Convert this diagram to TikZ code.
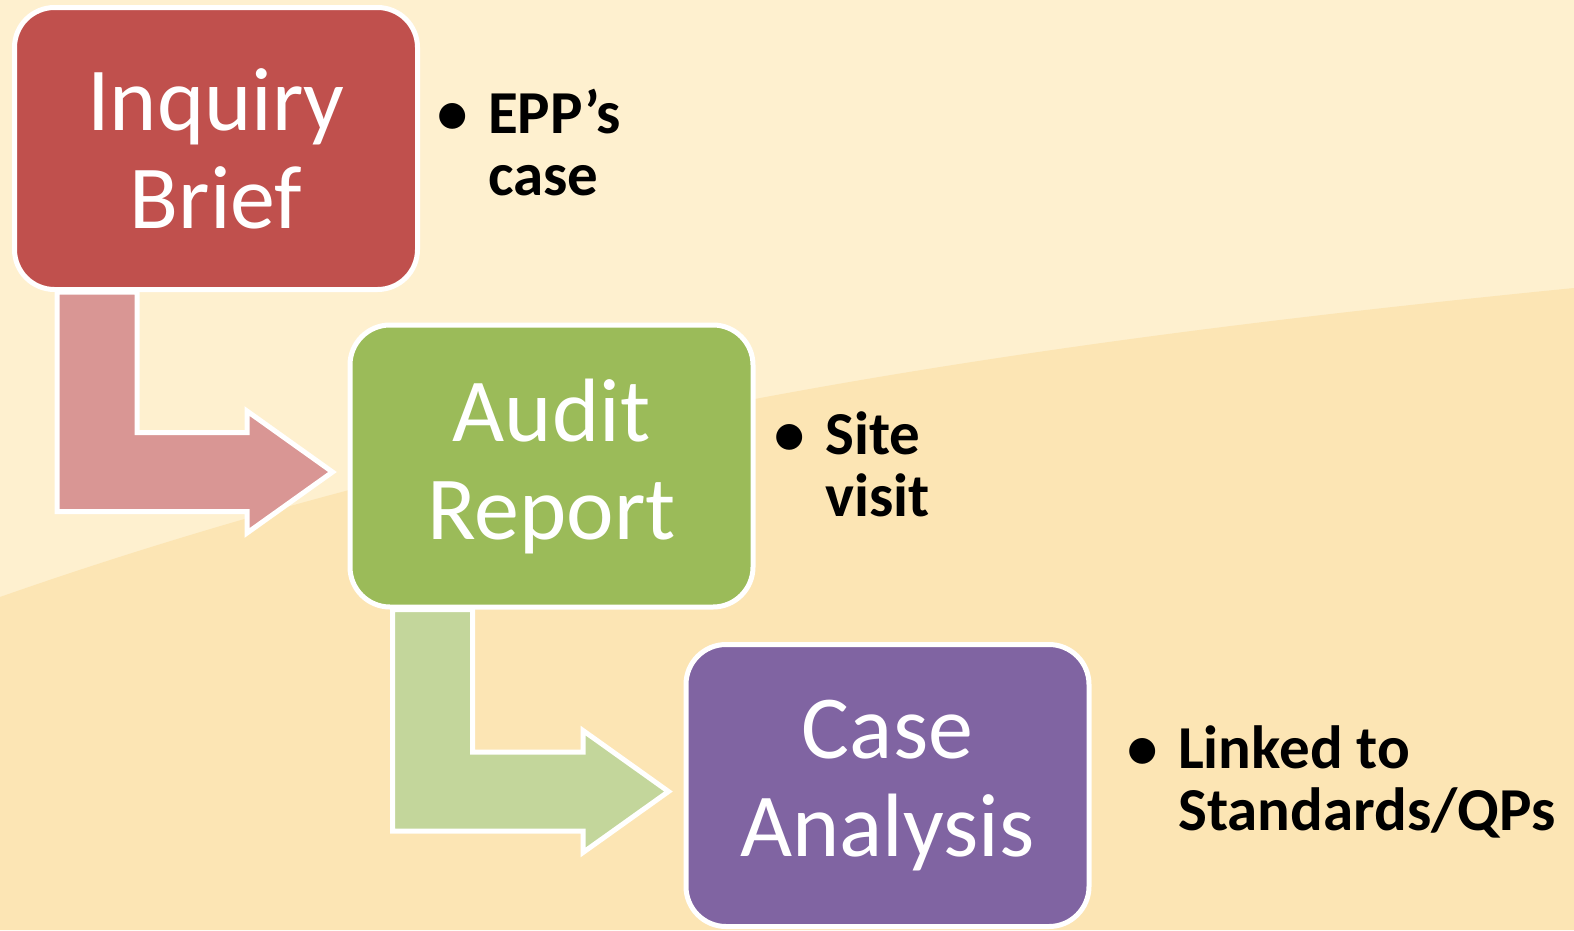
\documentclass[tikz,border=0pt]{standalone}
\usepackage{fontspec}
\setmainfont{Carlito}
\usetikzlibrary{calc}

\definecolor{bglight}{HTML}{FEF0CF}
\definecolor{bgdark}{HTML}{FCE5B4}
\definecolor{boxred}{HTML}{C0504D}
\definecolor{arrowred}{HTML}{D99694}
\definecolor{boxgreen}{HTML}{9BBB59}
\definecolor{arrowgreen}{HTML}{C3D69B}
\definecolor{boxpurple}{HTML}{8064A2}

\pgfdeclarelayer{bg}
\pgfdeclarelayer{mid}
\pgfsetlayers{bg,mid,main}

\tikzset{
  stagebox/.style={draw=white, line width=5pt, rounded corners=40pt,
    minimum width=403pt, minimum height=282pt, inner sep=0pt,
    text=white, align=center, font=\fontsize{90}{98}\selectfont},
  note/.style={anchor=west, inner sep=0pt, align=left,
    font=\fontsize{61}{62}\selectfont\bfseries},
  bentbox/.style={draw=white, line width=5pt, fill=#1}
}

% bent block arrow from the bottom of #1 to the left side of #2
\newcommand{\bentarrow}[3]{%
  \begin{pgfonlayer}{mid}
  \path let \p1 = (#1.south west), \p2 = ($(#2.west)+(-15,6)$) in
    [bentbox=#3]
    (\x1+45, \y1) -- (\x1+125, \y1) -- (\x1+125, \y2+39.5)
    -- (\x2-85.5, \y2+39.5) -- (\x2-85.5, \y2+61) -- (\p2)
    -- (\x2-85.5, \y2-61) -- (\x2-85.5, \y2-39.5)
    -- (\x1+45, \y2-39.5) -- cycle;
  \end{pgfonlayer}}

\newcommand{\bulletpt}{\llap{\textbullet\hspace{20pt}}}

\begin{document}
\begin{tikzpicture}[x=1pt, y=-1pt]
  \useasboundingbox (0,0) rectangle (1574,930);

  % background
  \begin{pgfonlayer}{bg}
    \fill[bglight] (0,0) rectangle (1574,930);
    \fill[bgdark] (0,597) .. controls (525,413) and (1050,340) .. (1574,288)
      -- (1574,930) -- (0,930) -- cycle;
  \end{pgfonlayer}

  % stages
  \node[stagebox, fill=boxred] (ib) at (216,148.5) {Inquiry\\Brief};
  \node[stagebox, fill=boxgreen] (ar) at (551.5,466) {Audit\\Report};
  \node[stagebox, fill=boxpurple] (ca) at (887.5,785.5) {Case\\Analysis};

  % arrows
  \bentarrow{ib}{ar}{arrowred}
  \bentarrow{ar}{ca}{arrowgreen}

  % notes
  \node[note] (ibnote) at (488,143) {\bulletpt EPP’s\\case};
  \node[note] (arnote) at (825,464) {\bulletpt Site\\visit};
  \node[note] (canote) at (1178,782) {\bulletpt Linked to\\Standards/QPs};
\end{tikzpicture}
\end{document}
